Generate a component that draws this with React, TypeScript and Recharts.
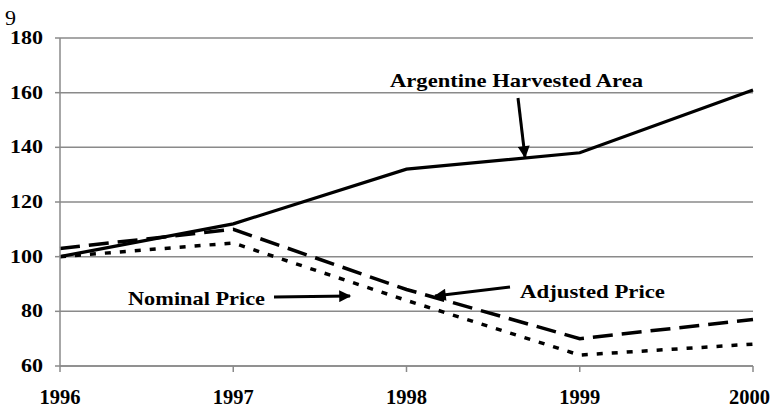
import { LineChart, Line, XAxis, YAxis, CartesianGrid } from 'recharts'

// ── Data ─────────────────────────────────────────────────────────────────────
const YEARS = ['1996', '1997', '1998', '1999', '2000']
const HARVESTED_AREA = [100, 112, 132, 138, 161]
const ADJUSTED_PRICE = [103, 110, 88, 70, 77]
const NOMINAL_PRICE = [100, 105, 84, 64, 68]
const Y_TICKS = [60, 80, 100, 120, 140, 160, 180]

const data = YEARS.map((year, i) => ({
  year,
  area: HARVESTED_AREA[i],
  adjusted: ADJUSTED_PRICE[i],
  nominal: NOMINAL_PRICE[i],
}))

// ── Styles ───────────────────────────────────────────────────────────────────
const FONT = 'Liberation Serif'
const GRID = '#8a8a8a'

// the source image is stretched sideways, so labels are fitted with textLength
function XTick({ x, y, payload, index }: any) {
  // last label sits against the right edge of the page
  const last = index === YEARS.length - 1 || payload.value === YEARS[YEARS.length - 1]
  return (
    <text x={last ? x + 17 : x} y={y} dy={32} textAnchor={last ? 'end' : 'middle'} fontFamily={FONT}
      fontSize={22} fontWeight={700} fill="#000" textLength={41} lengthAdjust="spacingAndGlyphs">
      {payload.value}
    </text>
  )
}

function YTick({ x, y, payload }: any) {
  const s = String(payload.value)
  return (
    <text x={x} y={y} dy={6} textAnchor="end" fontFamily={FONT} fontSize={18} fontWeight={700} fill="#000"
      textLength={s.length * 11} lengthAdjust="spacingAndGlyphs">
      {s}
    </text>
  )
}

function Label({ x, y, w, children }: { x: number; y: number; w: number; children: string }) {
  return (
    <text x={x} y={y} fontFamily={FONT} fontSize={19} fontWeight={700} fill="#000"
      textLength={w} lengthAdjust="spacingAndGlyphs">
      {children}
    </text>
  )
}

function Arrow({ x1, y1, x2, y2 }: { x1: number; y1: number; x2: number; y2: number }) {
  return <line x1={x1} y1={y1} x2={x2} y2={y2} stroke="#000" strokeWidth={3} markerEnd="url(#head)" />
}

export default function App() {
  return (
    <div style={{ position: 'absolute', left: 0, top: 0, width: 775, height: 412, background: '#fff' }}>
      <LineChart width={775} height={412} data={data} margin={{ top: 38, right: 22, bottom: 0, left: 0 }}>
        <CartesianGrid vertical={false} stroke={GRID} strokeWidth={1.5} />
        <XAxis
          dataKey="year"
          height={46}
          tick={<XTick />}
          tickSize={6}
          tickMargin={0}
          axisLine={{ stroke: GRID, strokeWidth: 1.5 }}
          tickLine={{ stroke: GRID, strokeWidth: 1.5 }}
          interval={0}
        />
        <YAxis
          domain={[60, 180]}
          ticks={Y_TICKS}
          width={60}
          tick={<YTick />}
          tickSize={5}
          tickMargin={12}
          axisLine={{ stroke: GRID, strokeWidth: 1.5 }}
          tickLine={{ stroke: GRID, strokeWidth: 1.5 }}
          interval={0}
        />
        <YAxis yAxisId="r" orientation="right" width={0} domain={[60, 180]} tick={false} tickLine={false}
          axisLine={{ stroke: GRID, strokeWidth: 1.5 }} />
        <Line dataKey="area" stroke="#000" strokeWidth={3.2} dot={false} isAnimationActive={false} />
        <Line dataKey="adjusted" stroke="#000" strokeWidth={3.5} strokeDasharray="20 9" dot={false} isAnimationActive={false} />
        <Line dataKey="nominal" stroke="#000" strokeWidth={3.5} strokeDasharray="6 9" dot={false} isAnimationActive={false} />
      </LineChart>

      <svg width={775} height={412} style={{ position: 'absolute', left: 0, top: 0, pointerEvents: 'none' }}>
        <defs>
          <marker id="head" viewBox="0 0 10 10" refX="9" refY="5" markerWidth="4.5" markerHeight="4" orient="auto">
            <path d="M0,0 L10,5 L0,10 z" fill="#000" />
          </marker>
        </defs>
        <text x={5} y={25} fontFamily={FONT} fontSize={22} fill="#000">9</text>
        <Label x={390} y={87} w={253}>Argentine Harvested Area</Label>
        <Arrow x1={518} y1={98} x2={525} y2={157} />
        <Label x={128} y={305} w={137}>Nominal Price</Label>
        <Arrow x1={274} y1={297} x2={350} y2={296} />
        <Label x={520} y={298} w={145}>Adjusted Price</Label>
        <Arrow x1={510} y1={287} x2={435} y2={296} />
      </svg>
    </div>
  )
}
